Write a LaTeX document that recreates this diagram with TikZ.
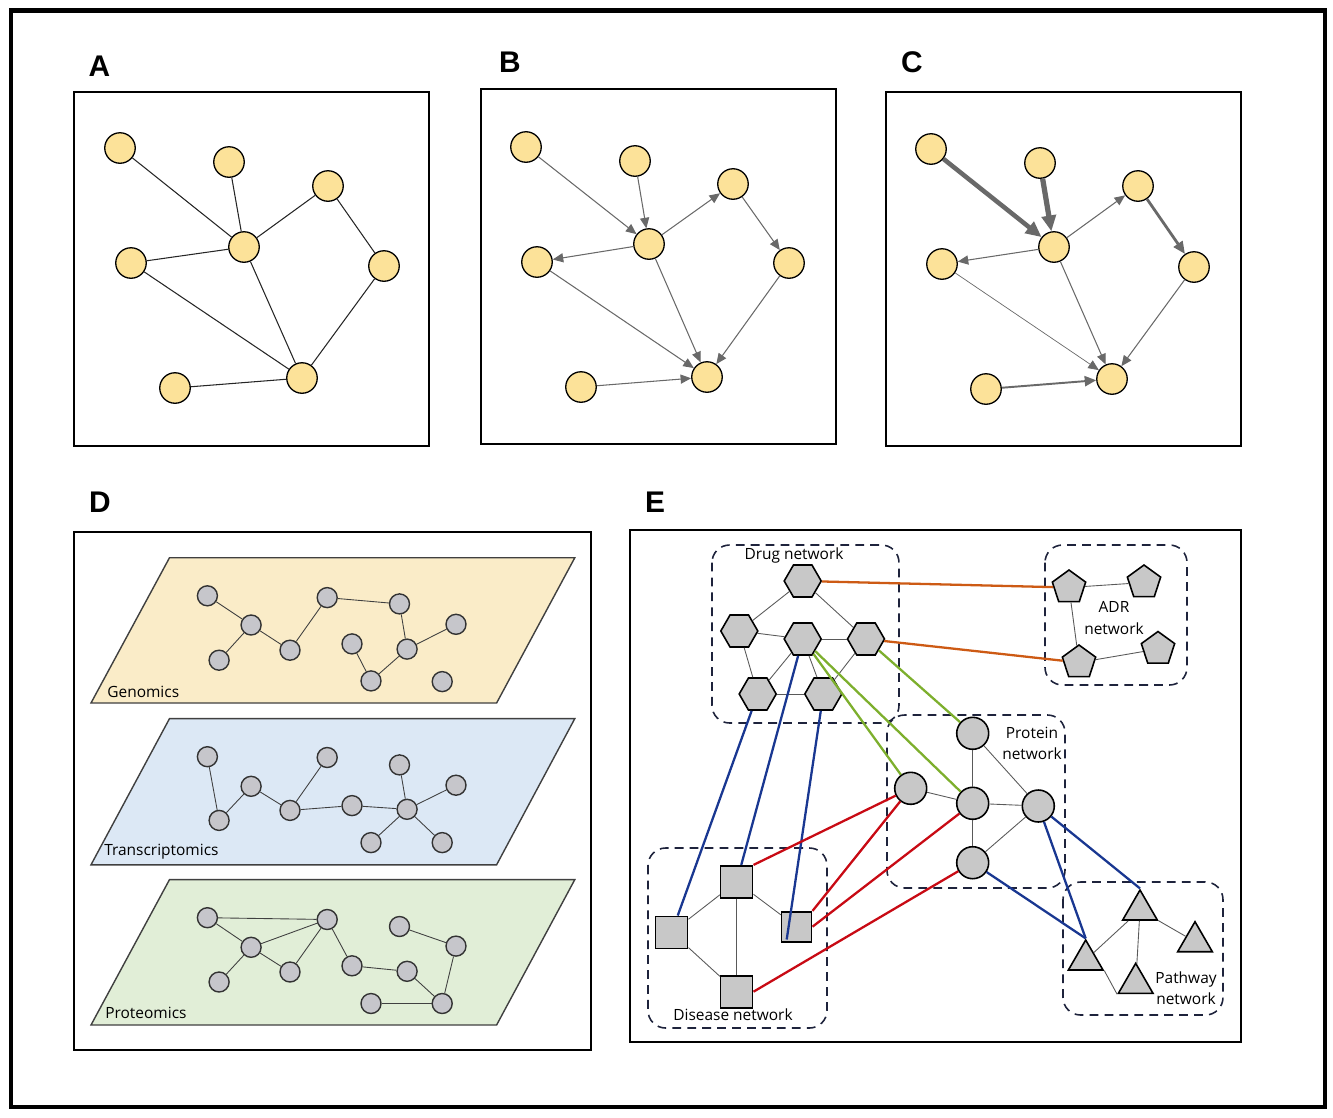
\documentclass[tikz,border=0pt]{standalone}
\usepackage{fontspec}
\setmainfont{Open Sans}
\newfontfamily\panelfont{Liberation Sans}
\usetikzlibrary{arrows.meta,shapes.geometric}
\definecolor{ynode}{RGB}{252,226,153}
\definecolor{agray}{RGB}{105,105,105}
\definecolor{genfill}{RGB}{250,236,200}
\definecolor{trfill}{RGB}{220,232,245}
\definecolor{prfill}{RGB}{225,238,215}
\definecolor{dnode}{RGB}{198,198,203}
\definecolor{enode}{RGB}{200,200,200}
\definecolor{dashc}{RGB}{30,35,60}
\definecolor{eorange}{RGB}{205,90,20}
\definecolor{egreen}{RGB}{125,175,45}
\definecolor{eblue}{RGB}{25,55,145}
\definecolor{ered}{RGB}{200,10,20}
\begin{document}
\begin{tikzpicture}[x=0.02cm,y=-0.02cm,
  panel/.style={draw=black,line width=1.1pt},
  plabel/.style={font=\panelfont\bfseries\fontsize{17}{20}\selectfont,inner sep=0},
  yn/.style={circle,draw=black,line width=0.75pt,fill=ynode,minimum size=0.61cm,inner sep=0},
  aedge/.style={draw=black!85,line width=0.6pt},
  barr/.style={draw=agray,line width=0.6pt,-{Triangle[length=6pt,width=5.2pt]}},
  dn/.style={circle,draw=black!80,line width=0.8pt,fill=dnode,minimum size=0.4cm,inner sep=0},
  dedge/.style={draw=black!75,line width=0.5pt},
  layerbox/.style={draw=black!75,line width=0.8pt},
  dlabel/.style={anchor=west,inner sep=0,font=\fontsize{8.8}{10}\selectfont},
  elabel/.style={inner sep=0,align=center,font=\fontsize{8.8}{12}\selectfont},
  hexn/.style={regular polygon,regular polygon sides=6,minimum size=0.74cm,inner sep=0,draw=black,line width=0.9pt,fill=enode},
  pentn/.style={regular polygon,regular polygon sides=5,minimum size=0.7cm,inner sep=0,draw=black,line width=0.9pt,fill=enode},
  trin/.style={regular polygon,regular polygon sides=3,minimum size=0.8cm,inner sep=0,draw=black,line width=0.9pt,fill=enode},
  sqn/.style={rectangle,minimum size=0.64cm,inner sep=0,draw=black,line width=0.9pt,fill=enode},
  cn/.style={circle,minimum size=0.64cm,inner sep=0,draw=black,line width=0.9pt,fill=enode},
  grp/.style={draw=dashc,line width=0.9pt,dash pattern=on 5pt off 3.5pt,rounded corners=10pt},
  gedge/.style={draw=black!65,line width=0.5pt},
  cedge/.style={line width=1.3pt}
]
\useasboundingbox (0,0) rectangle (1333,1117);
\draw[line width=2.6pt] (11,10.5) rectangle (1325,1107);

% ---------- Panel A ----------
\node[plabel] (LA) at (99.5,66) {A};
\draw[panel] (74,92) rectangle (429,446);
\node[yn] (A1) at (120,148) {};
\node[yn] (A2) at (229,162) {};
\node[yn] (A3) at (328,186) {};
\node[yn] (A4) at (244,247) {};
\node[yn] (A5) at (131,263) {};
\node[yn] (A6) at (384,266) {};
\node[yn] (A7) at (175,388) {};
\node[yn] (A8) at (302,378) {};
\draw[aedge] (A1)--(A4);
\draw[aedge] (A2)--(A4);
\draw[aedge] (A3)--(A4);
\draw[aedge] (A5)--(A4);
\draw[aedge] (A3)--(A6);
\draw[aedge] (A4)--(A8);
\draw[aedge] (A5)--(A8);
\draw[aedge] (A6)--(A8);
\draw[aedge] (A7)--(A8);

% ---------- Panel B ----------
\node[plabel] (LB) at (510,62) {B};
\draw[panel] (481,89) rectangle (836,444);
\node[yn] (B1) at (526,147) {};
\node[yn] (B2) at (635,161) {};
\node[yn] (B3) at (733,184) {};
\node[yn] (B4) at (649,244) {};
\node[yn] (B5) at (537,262) {};
\node[yn] (B6) at (789,263) {};
\node[yn] (B7) at (581,387) {};
\node[yn] (B8) at (707,377) {};
\draw[barr] (B1)--(B4);
\draw[barr] (B2)--(B4);
\draw[barr] (B4)--(B3);
\draw[barr] (B4)--(B5);
\draw[barr] (B3)--(B6);
\draw[barr] (B4)--(B8);
\draw[barr] (B5)--(B8);
\draw[barr] (B6)--(B8);
\draw[barr] (B7)--(B8);

% ---------- Panel C ----------
\node[plabel] (LC) at (912,62) {C};
\draw[panel] (886,92) rectangle (1241,446);
\node[yn] (C1) at (931,149) {};
\node[yn] (C2) at (1040,163) {};
\node[yn] (C3) at (1138,186) {};
\node[yn] (C4) at (1054,247) {};
\node[yn] (C5) at (942,264) {};
\node[yn] (C6) at (1194,267) {};
\node[yn] (C7) at (986,389) {};
\node[yn] (C8) at (1112,379) {};
\draw[draw=agray,line width=2.6pt,-{Triangle[length=9pt,width=8pt]}] (C1)--(C4);
\draw[draw=agray,line width=3pt,-{Triangle[length=9pt,width=8pt]}] (C2)--(C4);
\draw[draw=agray,line width=0.6pt,-{Triangle[length=6pt,width=5.2pt]}] (C4)--(C3);
\draw[draw=agray,line width=0.6pt,-{Triangle[length=6pt,width=5.2pt]}] (C4)--(C5);
\draw[draw=agray,line width=1.6pt,-{Triangle[length=7pt,width=6pt]}] (C3)--(C6);
\draw[draw=agray,line width=0.6pt,-{Triangle[length=6pt,width=5.2pt]}] (C4)--(C8);
\draw[draw=agray,line width=0.4pt,-{Triangle[length=6pt,width=5.2pt]}] (C5)--(C8);
\draw[draw=agray,line width=0.6pt,-{Triangle[length=6pt,width=5.2pt]}] (C6)--(C8);
\draw[draw=agray,line width=1.1pt,-{Triangle[length=6.5pt,width=5.8pt]}] (C7)--(C8);

% ---------- Panel D ----------
\node[plabel] (LD) at (100,502) {D};
\draw[panel] (74,532) rectangle (591,1050);
\draw[layerbox,fill=genfill] (169.5,557.7)--(574.8,557.7)--(496.6,703)--(91,703)--cycle;
\draw[layerbox,fill=trfill] (169.5,718.6)--(574.8,718.6)--(496.6,864.8)--(91,864.8)--cycle;
\draw[layerbox,fill=prfill] (169.5,879.6)--(574.8,879.6)--(496.6,1025)--(91,1025)--cycle;
\node[dlabel] (Lgen) at (107,692) {Genomics};
\node[dlabel] (Ltr) at (104,852) {Transcriptomics};
\node[dlabel] (Lpr) at (105,1013) {Proteomics};
% genomics
\node[dn] (g1) at (207.4,595.8) {};
\node[dn] (g2) at (251.1,625.0) {};
\node[dn] (g3) at (219.1,660.2) {};
\node[dn] (g4) at (290.0,650.2) {};
\node[dn] (g5) at (327.2,597.6) {};
\node[dn] (g6) at (399.5,603.9) {};
\node[dn] (g7) at (456.0,624.3) {};
\node[dn] (g8) at (352.0,643.9) {};
\node[dn] (g9) at (407.1,649.1) {};
\node[dn] (g10) at (371.0,680.9) {};
\node[dn] (g11) at (442.2,681.6) {};
\draw[dedge] (g1)--(g2);
\draw[dedge] (g2)--(g3);
\draw[dedge] (g2)--(g4);
\draw[dedge] (g4)--(g5);
\draw[dedge] (g5)--(g6);
\draw[dedge] (g6)--(g9);
\draw[dedge] (g9)--(g7);
\draw[dedge] (g9)--(g10);
\draw[dedge] (g10)--(g8);
% transcriptomics
\node[dn] (t1) at (207.4,756.7) {};
\node[dn] (t2) at (219.1,820.4) {};
\node[dn] (t3) at (251.1,786.3) {};
\node[dn] (t4) at (290.0,810.4) {};
\node[dn] (t5) at (327.2,757.5) {};
\node[dn] (t6) at (352.0,805.6) {};
\node[dn] (t7) at (399.5,764.9) {};
\node[dn] (t8) at (407.1,809.3) {};
\node[dn] (t9) at (456.0,785.2) {};
\node[dn] (t10) at (371.0,842.6) {};
\node[dn] (t11) at (442.2,842.6) {};
\draw[dedge] (t1)--(t2);
\draw[dedge] (t2)--(t3);
\draw[dedge] (t3)--(t4);
\draw[dedge] (t4)--(t5);
\draw[dedge] (t4)--(t6);
\draw[dedge] (t6)--(t8);
\draw[dedge] (t8)--(t7);
\draw[dedge] (t8)--(t9);
\draw[dedge] (t8)--(t10);
\draw[dedge] (t8)--(t11);
% proteomics
\node[dn] (p1) at (207.4,917.7) {};
\node[dn] (p2) at (327.2,919.5) {};
\node[dn] (p3) at (251.1,947.3) {};
\node[dn] (p4) at (219.1,982.0) {};
\node[dn] (p5) at (290.0,972.0) {};
\node[dn] (p6) at (352.0,965.8) {};
\node[dn] (p7) at (407.1,971.3) {};
\node[dn] (p8) at (399.5,926.5) {};
\node[dn] (p9) at (456.0,946.1) {};
\node[dn] (p10) at (371.0,1003.5) {};
\node[dn] (p11) at (442.2,1003.5) {};
\draw[dedge] (p1)--(p2);
\draw[dedge] (p1)--(p3);
\draw[dedge] (p3)--(p2);
\draw[dedge] (p3)--(p4);
\draw[dedge] (p3)--(p5);
\draw[dedge] (p5)--(p2);
\draw[dedge] (p2)--(p6);
\draw[dedge] (p6)--(p7);
\draw[dedge] (p7)--(p11);
\draw[dedge] (p11)--(p9);
\draw[dedge] (p9)--(p8);
\draw[dedge] (p10)--(p11);

% ---------- Panel E ----------
\node[plabel] (LE) at (655,502) {E};
\draw[panel] (630,530) rectangle (1241,1042);
\draw[grp] (712,545) rectangle (899,723);
\draw[grp] (1045,545) rectangle (1187,685);
\draw[grp] (887,715) rectangle (1065,888);
\draw[grp] (1063,882) rectangle (1223,1015);
\draw[grp] (648,848) rectangle (827,1028);
\node[elabel] (Ldrug) at (794,555) {Drug network};
\node[elabel] (Ladr) at (1114,618) {ADR\\network};
\node[elabel] (Lprot) at (1032,743) {Protein\\network};
\node[elabel] (Lpath) at (1186,988) {Pathway\\network};
\node[elabel] (Ldis) at (733,1015) {Disease network};
% drug
\node[hexn] (h1) at (802.7,581) {};
\node[hexn] (h2) at (739.3,631) {};
\node[hexn] (h3) at (802.7,639) {};
\node[hexn] (h4) at (866,639) {};
\node[hexn] (h5) at (757.7,694) {};
\node[hexn] (h6) at (823.3,694) {};
\draw[gedge] (h1)--(h2);
\draw[gedge] (h1)--(h4);
\draw[gedge] (h2)--(h3);
\draw[gedge] (h3)--(h4);
\draw[gedge] (h2)--(h5);
\draw[gedge] (h3)--(h5);
\draw[gedge] (h3)--(h6);
\draw[gedge] (h4)--(h6);
\draw[gedge] (h5)--(h6);
% ADR
\node[pentn] (a1) at (1069,587.5) {};
\node[pentn] (a2) at (1144,582.5) {};
\node[pentn] (a3) at (1079,662.5) {};
\node[pentn] (a4) at (1158,649) {};
\draw[gedge] (a1)--(a2);
\draw[gedge] (a1)--(a3);
\draw[gedge] (a3)--(a4);
% protein
\node[cn] (c1) at (972.7,733.3) {};
\node[cn] (c2) at (910.7,788.3) {};
\node[cn] (c3) at (972.7,803.3) {};
\node[cn] (c4) at (1038.3,806) {};
\node[cn] (c5) at (972.7,862.7) {};
\draw[gedge] (c1)--(c3);
\draw[gedge] (c1)--(c4);
\draw[gedge] (c2)--(c3);
\draw[gedge] (c3)--(c4);
\draw[gedge] (c3)--(c5);
\draw[gedge] (c5)--(c4);
% pathway
\node[trin] (r1) at (1140,910) {};
\node[trin] (r2) at (1195,941.7) {};
\node[trin] (r3) at (1085.7,960) {};
\node[trin] (r4) at (1135.7,983.3) {};
\draw[gedge] (r1)--(r3);
\draw[gedge] (r1)--(r2);
\draw[gedge] (r1)--(r4);
\draw[gedge] (r3.corner 3)--(r4.corner 2);
% disease
\node[sqn] (s1) at (736.7,881.7) {};
\node[sqn] (s2) at (671.7,932.3) {};
\node[sqn,minimum size=0.6cm] (s3) at (796.7,926.7) {};
\node[sqn] (s4) at (736.7,991.7) {};
\draw[gedge] (s1)--(s2);
\draw[gedge] (s1)--(s3);
\draw[gedge] (s1)--(s4);
\draw[gedge] (s2)--(s4);
% cross-network links
\draw[cedge,eorange] (h1)--(a1);
\draw[cedge,eorange] (h4)--(a3);
\draw[cedge,egreen] (h3)--(c2);
\draw[cedge,egreen] (h3)--(c3);
\draw[cedge,egreen] (h4)--(c1);
\draw[cedge,eblue] (h5)--(s2);
\draw[cedge,eblue] (h3)--(s1);
\draw[cedge,eblue] (h6)--([xshift=-0.2cm,yshift=0.06cm]s3.south);
\draw[cedge,eblue] (c4)--(r1.corner 1);
\draw[cedge,eblue] (c4)--(r3.corner 1);
\draw[cedge,eblue] (c5)--(r3.corner 1);
\draw[cedge,ered] (s1.north east)--(c2);
\draw[cedge,ered] (s3.north east)--(c2);
\draw[cedge,ered] (s3.east)--(c3);
\draw[cedge,ered] (s4.east)--(c5);
\end{tikzpicture}
\end{document}
